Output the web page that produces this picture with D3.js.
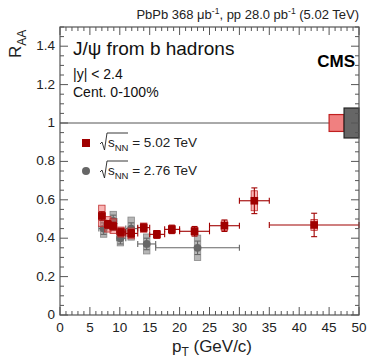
<!DOCTYPE html>
<html><head><meta charset="utf-8">
<script src="https://cdn.jsdelivr.net/npm/d3@7"></script>
<style>body{margin:0;background:#fff}svg{display:block;font-family:"Liberation Sans",Arial,sans-serif}</style>
</head><body><svg id="c" width="374" height="359"></svg>
<script>
// 5.02 TeV (red squares)
const redX    = [7.0, 8.0, 8.9, 10.2, 11.9, 14.0, 16.2, 18.7, 22.5, 27.5, 32.5, 42.5];
const redY    = [0.516, 0.472, 0.463, 0.432, 0.425, 0.455, 0.420, 0.446, 0.436, 0.465, 0.595, 0.469];
const redXlo  = [6.5, 7.5, 8.5, 9.5, 11, 13, 15, 17.5, 20, 25, 30, 35];
const redXhi  = [7.5, 8.5, 9.5, 11, 13, 15, 17.5, 20, 25, 30, 35, 50];
const redStat = [0.022, 0.02, 0.02, 0.02, 0.02, 0.02, 0.02, 0.022, 0.025, 0.03, 0.067, 0.061];
const redSyst = [0.056, 0.04, 0.038, 0.026, 0.028, 0.024, 0.02, 0.02, 0.02, 0.025, 0.052, 0.028];
// 2.76 TeV (gray circles)
const grayX    = [7.3, 8.9, 10.1, 11.9, 14.5, 23.0];
const grayY    = [0.45, 0.49, 0.40, 0.45, 0.37, 0.35];
const grayXlo  = [6.5, 8.5, 9.5, 11, 13, 16];
const grayXhi  = [8.5, 9.5, 11, 13, 16, 30];
const grayStat = [0.03, 0.03, 0.03, 0.03, 0.03, 0.035];
const graySyst = [0.045, 0.05, 0.04, 0.06, 0.052, 0.066];
// global uncertainties at R_AA = 1
const globalUnc = [{lo:45, hi:47.5, e:0.044, key:"red"}, {lo:47.5, hi:50, e:0.078, key:"gray"}];
const xTicks = [0,5,10,15,20,25,30,35,40,45,50];
const yTicks = [0,0.2,0.4,0.6,0.8,1,1.2,1.4];

const svg = d3.select("#c");
const L=60, R=359, T=27, B=315;
const x = d3.scaleLinear().domain([0,50]).range([L,R]);
const y = d3.scaleLinear().domain([0,1.5]).range([B,T]);
const frameCol="#555";

const styles = {
  red:{col:"#a00000", boxFill:"rgba(240,90,90,0.45)", boxStroke:"#c03030", gFill:"#f08080", gStroke:"#c02020"},
  gray:{col:"#666", boxFill:"rgba(110,110,110,0.5)", boxStroke:"#888", gFill:"#666", gStroke:"#222"}
};

// reference line
svg.append("line").attr("x1",L).attr("x2",R).attr("y1",y(1)).attr("y2",y(1)).attr("stroke","#555").attr("stroke-width",1);

// global boxes
globalUnc.forEach(g=>{
  const s=styles[g.key];
  svg.append("rect").attr("x",x(g.lo)).attr("width",x(g.hi)-x(g.lo))
    .attr("y",y(1+g.e)).attr("height",y(1-g.e)-y(1+g.e))
    .attr("fill",s.gFill).attr("stroke",s.gStroke).attr("stroke-width",1.2);
});

function drawSeries(X,Y,Xlo,Xhi,Stat,Syst,key,shape){
  const s=styles[key];
  const g=svg.append("g");
  const bw=3.2;
  X.forEach((xv,i)=>{
    const cx=x(xv);
    g.append("rect").attr("x",cx-bw).attr("width",2*bw).attr("y",y(Y[i]+Syst[i])).attr("height",y(Y[i]-Syst[i])-y(Y[i]+Syst[i]))
      .attr("fill",s.boxFill).attr("stroke",s.boxStroke).attr("stroke-width",0.8);
  });
  X.forEach((xv,i)=>{
    const cx=x(xv), cy=y(Y[i]);
    const cap=3;
    g.append("line").attr("x1",x(Xlo[i])).attr("x2",x(Xhi[i])).attr("y1",cy).attr("y2",cy).attr("stroke",s.col).attr("stroke-width",1.1);
    [Xlo[i],Xhi[i]].forEach(e=>g.append("line").attr("x1",x(e)).attr("x2",x(e)).attr("y1",cy-cap).attr("y2",cy+cap).attr("stroke",s.col).attr("stroke-width",1.1));
    g.append("line").attr("x1",cx).attr("x2",cx).attr("y1",y(Y[i]+Stat[i])).attr("y2",y(Y[i]-Stat[i])).attr("stroke",s.col).attr("stroke-width",1.1);
    [Y[i]+Stat[i],Y[i]-Stat[i]].forEach(e=>g.append("line").attr("x1",cx-cap).attr("x2",cx+cap).attr("y1",y(e)).attr("y2",y(e)).attr("stroke",s.col).attr("stroke-width",1.1));
    if(shape==="square") g.append("rect").attr("x",cx-3.8).attr("y",cy-3.8).attr("width",7.6).attr("height",7.6).attr("fill",s.col);
    else g.append("circle").attr("cx",cx).attr("cy",cy).attr("r",3.9).attr("fill",s.col);
  });
}
drawSeries(grayX,grayY,grayXlo,grayXhi,grayStat,graySyst,"gray","circle");
drawSeries(redX,redY,redXlo,redXhi,redStat,redSyst,"red","square");

// frame
svg.append("rect").attr("x",L).attr("y",T).attr("width",R-L).attr("height",B-T).attr("fill","none").attr("stroke",frameCol).attr("stroke-width",1.2);

// ticks
const tk=svg.append("g").attr("stroke",frameCol).attr("stroke-width",1);
d3.range(0,50.01,1).forEach(v=>{
  const major = Math.abs(v%5)<1e-6; const len= major?8:4;
  tk.append("line").attr("x1",x(v)).attr("x2",x(v)).attr("y1",B).attr("y2",B-len);
  tk.append("line").attr("x1",x(v)).attr("x2",x(v)).attr("y1",T).attr("y2",T+len);
});
d3.range(0,1.5001,0.05).forEach(v=>{
  const major = Math.abs((v/0.2)-Math.round(v/0.2))<1e-6; const len= major?8:4;
  tk.append("line").attr("x1",L).attr("x2",L+len).attr("y1",y(v)).attr("y2",y(v));
  tk.append("line").attr("x1",R).attr("x2",R-len).attr("y1",y(v)).attr("y2",y(v));
});

// tick labels
svg.append("g").selectAll("text").data(xTicks).join("text")
  .attr("x",d=>x(d)).attr("y",332).attr("text-anchor","middle").attr("font-size",13.5).attr("fill","#222").text(d=>d);
svg.append("g").selectAll("text").data(yTicks).join("text")
  .attr("x",55).attr("y",d=>y(d)+4).attr("text-anchor","end").attr("font-size",13.5).attr("fill","#222").text(d=>d);

// axis titles
const xt=svg.append("text").attr("x",212).attr("y",352).attr("text-anchor","middle").attr("font-size",17).attr("fill","#222");
xt.append("tspan").text("p");
xt.append("tspan").attr("font-size",12).attr("dy",4).text("T");
xt.append("tspan").attr("dy",-4).text(" (GeV/c)");
const yt=svg.append("text").attr("transform","translate(21,58) rotate(-90)").attr("text-anchor","start").attr("font-size",17).attr("fill","#222");
yt.append("tspan").text("R");
yt.append("tspan").attr("font-size",12).attr("dy",5).text("AA");

// header
const hd=svg.append("text").attr("x",359).attr("y",19).attr("text-anchor","end").attr("font-size",13).attr("fill","#222");
hd.append("tspan").text("PbPb 368 μb");
hd.append("tspan").attr("font-size",8.5).attr("dy",-5).text("-1");
hd.append("tspan").attr("dy",5).text(", pp 28.0 pb");
hd.append("tspan").attr("font-size",8.5).attr("dy",-5).text("-1");
hd.append("tspan").attr("dy",5).text(" (5.02 TeV)");

svg.append("text").attr("x",73).attr("y",55).attr("font-size",19).attr("fill","#111").text("J/ψ from b hadrons");
svg.append("text").attr("x",355).attr("y",67).attr("text-anchor","end").attr("font-size",17).attr("font-weight","bold").attr("fill","#000").text("CMS");
svg.append("text").attr("x",73).attr("y",79).attr("font-size",14).attr("fill","#111").text("|y| < 2.4");
svg.append("text").attr("x",73).attr("y",97).attr("font-size",14).attr("fill","#111").text("Cent. 0-100%");

// legend
const leg=[{key:"red",shape:"square",label:"5.02 TeV",yy:143},{key:"gray",shape:"circle",label:"2.76 TeV",yy:171}];
leg.forEach(l=>{
  const s=styles[l.key];
  if(l.shape==="square") svg.append("rect").attr("x",82).attr("y",l.yy-4).attr("width",8).attr("height",8).attr("fill",s.col);
  else svg.append("circle").attr("cx",86).attr("cy",l.yy).attr("r",4).attr("fill",s.col);
  svg.append("path").attr("d",`M100,${l.yy+1} L102,${l.yy-1} L104.5,${l.yy+7} L107,${l.yy-10} L128,${l.yy-10}`)
    .attr("fill","none").attr("stroke","#222").attr("stroke-width",0.9);
  const t=svg.append("text").attr("x",108).attr("y",l.yy+4).attr("font-size",13.5).attr("fill","#222");
  t.append("tspan").text("s");
  t.append("tspan").attr("font-size",9.5).attr("dy",4).text("NN");
  t.append("tspan").attr("dy",-4).text(" = "+l.label);
});
</script></body></html>
